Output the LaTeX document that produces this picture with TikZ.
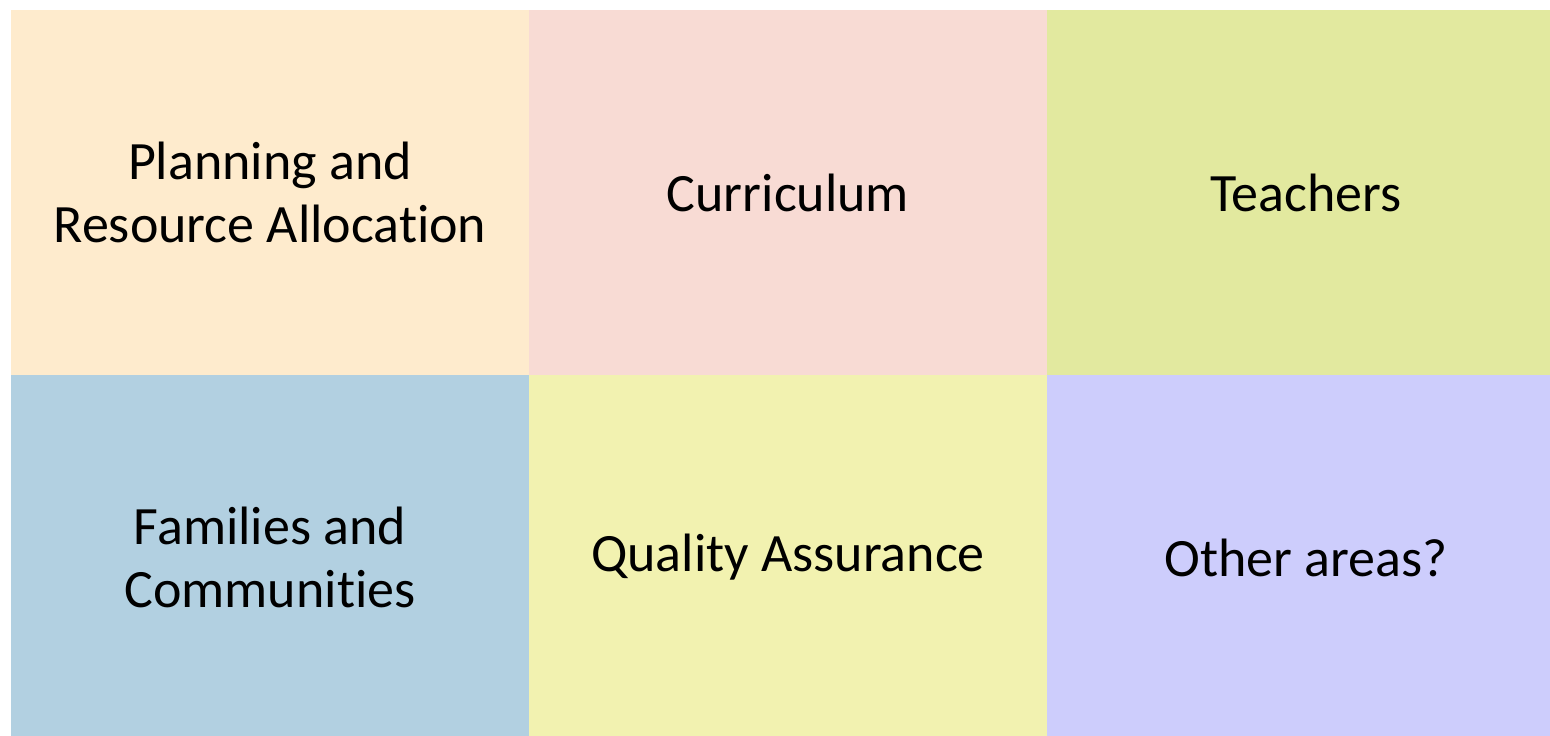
\documentclass[tikz,border=0pt]{standalone}
\usepackage{fontspec}
\setmainfont[Ligatures=NoCommon]{Carlito}
\definecolor{peach}{HTML}{FEEBCD}
\definecolor{rose}{HTML}{F8DBD4}
\definecolor{lime}{HTML}{E2E99F}
\definecolor{sky}{HTML}{B2D0E1}
\definecolor{lemon}{HTML}{F2F2B0}
\definecolor{lavender}{HTML}{CDCDFC}
\begin{document}
\begin{tikzpicture}
  [x=1pt,y=-1pt,
   area/.style={anchor=north west, inner sep=0pt, outer sep=0pt,
     minimum width=518pt, minimum height=365pt, align=center,
     font=\fontsize{54}{63}\selectfont}]
  \def \w {518}
  \def \h {365}
  \useasboundingbox[fill=white] (0,0) rectangle (1550,736);
  \clip (0,0) rectangle (1550,736);

  % top row
  \node[area, fill=peach] (planning) at (11,10) {Planning and\\Resource Allocation};
  \node[area, fill=rose] (curriculum) at (11+\w,10) {Curriculum};
  \node[area, fill=lime] (teachers) at (11+2*\w,10) {Teachers};
  % bottom row
  \node[area, fill=sky] (families) at (11,10+\h) {Families and\\Communities};
  \node[area, fill=lemon] (quality) at (11+\w,10+\h) {Quality Assurance};
  \node[area, fill=lavender] (other) at (11+2*\w,10+\h) {Other areas?};
\end{tikzpicture}
\end{document}
